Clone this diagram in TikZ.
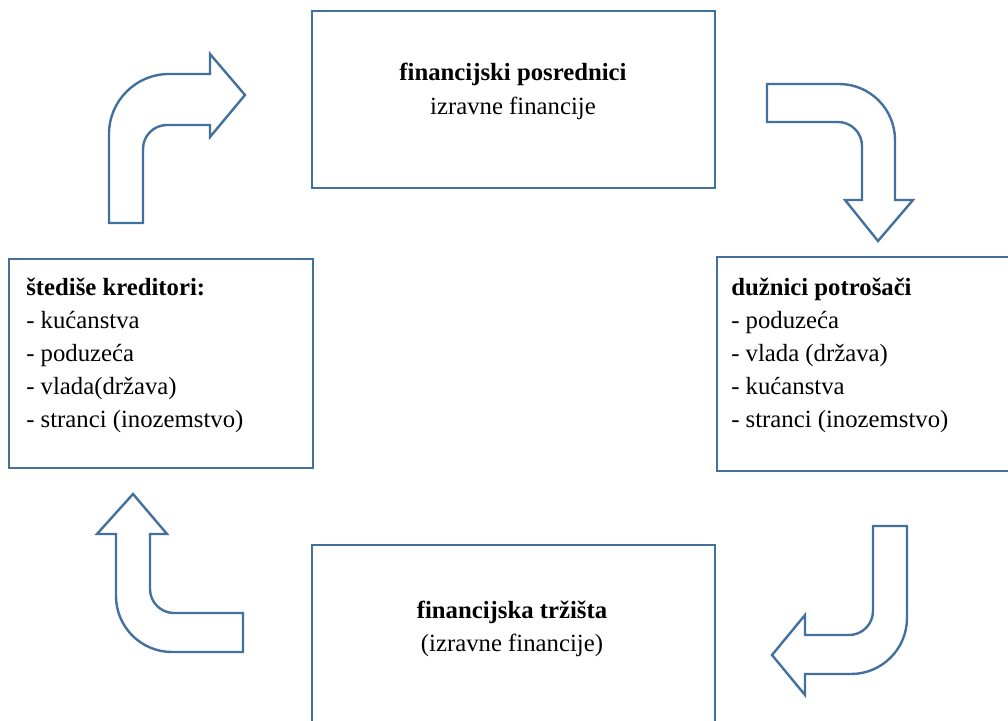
\documentclass[tikz,border=0pt]{standalone}
\usepackage{fontspec}
\setmainfont{Liberation Serif}
\usepackage{tikz}
\usetikzlibrary{positioning}

\definecolor{boxblue}{RGB}{65,113,156}

\tikzset{
  box/.style={draw=boxblue, line width=2.1pt, inner sep=0pt},
  bent/.style={draw=boxblue, line width=1.7pt, line join=miter, fill=white},
  txt/.style={inner sep=0pt, font=\fontsize{17.6}{23.5}\selectfont}
}

\begin{document}
\begin{tikzpicture}
\useasboundingbox (0, 0) rectangle (25.2, 18.0);
\clip (0, 0) rectangle (25.2, 18.0);

\node [box, minimum width=10.075cm, minimum height=4.425cm] (posrednici) at (12.8375, 15.5125) {};
\node [box, minimum width=10.075cm, minimum height=4.875cm] (trzista) at (12.8375, 1.9375) {};
\node [box, minimum width=7.6cm, minimum height=5.225cm] (stedise) at (4.025, 8.9125) {};
\node [box, minimum width=7.575cm, minimum height=5.35cm] (duznici) at (21.7125, 8.9) {};

\node [txt, anchor=base] (pos1) at (12.825, 15.975) {\bf financijski posrednici};
\node [txt, anchor=base] (pos2) at (12.825, 15.125) {izravne financije};

\node [txt, anchor=base] (trz1) at (12.8, 2.55) {\bf financijska tržišta};
\node [txt, anchor=base] (trz2) at (12.8, 1.725) {(izravne financije)};

\node [txt, anchor=base west] (ste1) at (0.65, 10.625) {\bf štediše kreditori:};
\node [txt, anchor=base west] (ste2) at (0.65, 9.8) {- kućanstva};
\node [txt, anchor=base west] (ste3) at (0.65, 8.975) {- poduzeća};
\node [txt, anchor=base west] (ste4) at (0.65, 8.15) {- vlada(država)};
\node [txt, anchor=base west] (ste5) at (0.65, 7.325) {- stranci (inozemstvo)};

\node [txt, anchor=base west] (duz1) at (18.275, 10.625) {\bf dužnici potrošači};
\node [txt, anchor=base west] (duz2) at (18.275, 9.8) {- poduzeća};
\node [txt, anchor=base west] (duz3) at (18.275, 8.975) {- vlada (država)};
\node [txt, anchor=base west] (duz4) at (18.275, 8.15) {- kućanstva};
\node [txt, anchor=base west] (duz5) at (18.275, 7.325) {- stranci (inozemstvo)};

% bent arrows round the cycle
\draw [bent] (2.725, 12.425) -- (2.725, 14.65) arc [start angle=180, end angle=90, radius=1.5]
  -- (5.25, 16.15) -- (5.25, 16.65) -- (6.125, 15.625) -- (5.25, 14.575) -- (5.25, 14.875)
  -- (4.175, 14.875) arc [start angle=90, end angle=180, radius=0.6] -- (3.575, 12.425) -- cycle;

\draw [bent] (19.175, 15.9) -- (20.975, 15.9) arc [start angle=90, end angle=0, radius=1.4]
  -- (22.375, 13.0) -- (22.825, 13.0) -- (21.95, 11.975) -- (21.125, 13.0) -- (21.55, 13.0)
  -- (21.55, 14.35) arc [start angle=0, end angle=90, radius=0.6] -- (19.175, 14.95) -- cycle;

\draw [bent] (21.825, 4.85) -- (22.675, 4.85) -- (22.675, 2.55) arc [start angle=0, end angle=-90, radius=1.4]
  -- (20.125, 1.15) -- (20.125, 0.625) -- (19.3, 1.625) -- (20.125, 2.625) -- (20.125, 2.125)
  -- (21.225, 2.125) arc [start angle=-90, end angle=0, radius=0.6] -- cycle;

\draw [bent] (6.075, 2.675) -- (4.35, 2.675) arc [start angle=270, end angle=180, radius=0.6]
  -- (3.75, 4.65) -- (4.175, 4.65) -- (3.325, 5.65) -- (2.425, 4.65) -- (2.9, 4.65)
  -- (2.9, 3.1) arc [start angle=180, end angle=270, radius=1.4] -- (6.075, 1.7) -- cycle;

\end{tikzpicture}
\end{document}
